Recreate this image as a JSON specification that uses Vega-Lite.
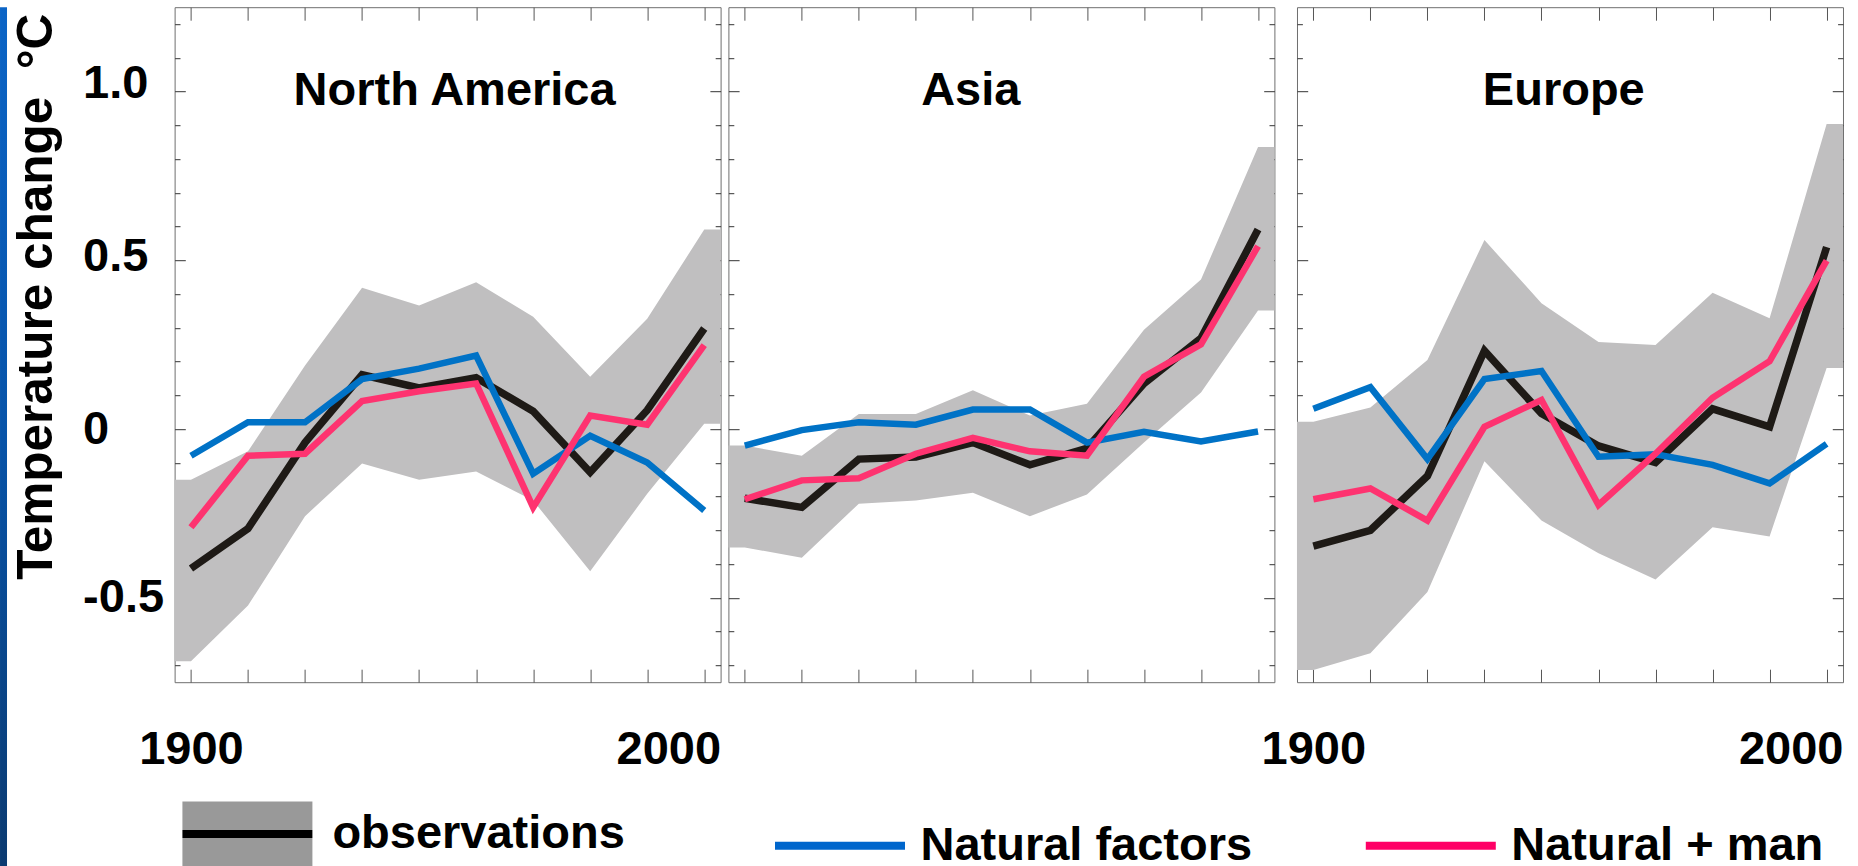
{
  "$schema": "https://vega.github.io/schema/vega-lite/v6.json",
  "background": "white",
  "padding": {"left": 0, "top": 6.2, "right": 0, "bottom": 0},
  "config": {
    "view": {"stroke": "#6e6e6e", "strokeWidth": 1},
    "font": "Liberation Sans"
  },
  "datasets": {
    "band": [
      {"region": "North America", "year": 1890, "lo": -0.688, "hi": -0.150},
      {"region": "North America", "year": 1900, "lo": -0.688, "hi": -0.150},
      {"region": "North America", "year": 1910, "lo": -0.523, "hi": -0.066},
      {"region": "North America", "year": 1920, "lo": -0.258, "hi": 0.188},
      {"region": "North America", "year": 1930, "lo": -0.102, "hi": 0.419},
      {"region": "North America", "year": 1940, "lo": -0.150, "hi": 0.366},
      {"region": "North America", "year": 1950, "lo": -0.126, "hi": 0.435},
      {"region": "North America", "year": 1960, "lo": -0.212, "hi": 0.333},
      {"region": "North America", "year": 1970, "lo": -0.421, "hi": 0.155},
      {"region": "North America", "year": 1980, "lo": -0.192, "hi": 0.327},
      {"region": "North America", "year": 1990, "lo": 0.016, "hi": 0.591},
      {"region": "North America", "year": 2000, "lo": 0.016, "hi": 0.591},
      {"region": "Asia", "year": 1890, "lo": -0.351, "hi": -0.049},
      {"region": "Asia", "year": 1900, "lo": -0.351, "hi": -0.049},
      {"region": "Asia", "year": 1910, "lo": -0.381, "hi": -0.079},
      {"region": "Asia", "year": 1920, "lo": -0.221, "hi": 0.045},
      {"region": "Asia", "year": 1930, "lo": -0.212, "hi": 0.045},
      {"region": "Asia", "year": 1940, "lo": -0.189, "hi": 0.115},
      {"region": "Asia", "year": 1950, "lo": -0.258, "hi": 0.040},
      {"region": "Asia", "year": 1960, "lo": -0.194, "hi": 0.075},
      {"region": "Asia", "year": 1970, "lo": -0.040, "hi": 0.294},
      {"region": "Asia", "year": 1980, "lo": 0.108, "hi": 0.443},
      {"region": "Asia", "year": 1990, "lo": 0.351, "hi": 0.836},
      {"region": "Asia", "year": 2000, "lo": 0.351, "hi": 0.836},
      {"region": "Europe", "year": 1890, "lo": -0.714, "hi": 0.022},
      {"region": "Europe", "year": 1900, "lo": -0.714, "hi": 0.022},
      {"region": "Europe", "year": 1910, "lo": -0.664, "hi": 0.064},
      {"region": "Europe", "year": 1920, "lo": -0.483, "hi": 0.205},
      {"region": "Europe", "year": 1930, "lo": -0.095, "hi": 0.560},
      {"region": "Europe", "year": 1940, "lo": -0.271, "hi": 0.373},
      {"region": "Europe", "year": 1950, "lo": -0.368, "hi": 0.258},
      {"region": "Europe", "year": 1960, "lo": -0.446, "hi": 0.249},
      {"region": "Europe", "year": 1970, "lo": -0.291, "hi": 0.404},
      {"region": "Europe", "year": 1980, "lo": -0.318, "hi": 0.328},
      {"region": "Europe", "year": 1990, "lo": 0.181, "hi": 0.904},
      {"region": "Europe", "year": 2000, "lo": 0.181, "hi": 0.904}
    ],
    "lines": [
      {"region": "North America", "series": "observations", "year": 1900, "value": -0.413},
      {"region": "North America", "series": "observations", "year": 1910, "value": -0.295},
      {"region": "North America", "series": "observations", "year": 1920, "value": -0.040},
      {"region": "North America", "series": "observations", "year": 1930, "value": 0.161},
      {"region": "North America", "series": "observations", "year": 1940, "value": 0.122},
      {"region": "North America", "series": "observations", "year": 1950, "value": 0.152},
      {"region": "North America", "series": "observations", "year": 1960, "value": 0.053},
      {"region": "North America", "series": "observations", "year": 1970, "value": -0.128},
      {"region": "North America", "series": "observations", "year": 1980, "value": 0.056},
      {"region": "North America", "series": "observations", "year": 1990, "value": 0.298},
      {"region": "North America", "series": "Natural factors", "year": 1900, "value": -0.079},
      {"region": "North America", "series": "Natural factors", "year": 1910, "value": 0.020},
      {"region": "North America", "series": "Natural factors", "year": 1920, "value": 0.020},
      {"region": "North America", "series": "Natural factors", "year": 1930, "value": 0.148},
      {"region": "North America", "series": "Natural factors", "year": 1940, "value": 0.179},
      {"region": "North America", "series": "Natural factors", "year": 1950, "value": 0.218},
      {"region": "North America", "series": "Natural factors", "year": 1960, "value": -0.132},
      {"region": "North America", "series": "Natural factors", "year": 1970, "value": -0.020},
      {"region": "North America", "series": "Natural factors", "year": 1980, "value": -0.099},
      {"region": "North America", "series": "Natural factors", "year": 1990, "value": -0.241},
      {"region": "North America", "series": "Natural + man", "year": 1900, "value": -0.291},
      {"region": "North America", "series": "Natural + man", "year": 1910, "value": -0.079},
      {"region": "North America", "series": "Natural + man", "year": 1920, "value": -0.073},
      {"region": "North America", "series": "Natural + man", "year": 1930, "value": 0.083},
      {"region": "North America", "series": "Natural + man", "year": 1940, "value": 0.112},
      {"region": "North America", "series": "Natural + man", "year": 1950, "value": 0.135},
      {"region": "North America", "series": "Natural + man", "year": 1960, "value": -0.232},
      {"region": "North America", "series": "Natural + man", "year": 1970, "value": 0.040},
      {"region": "North America", "series": "Natural + man", "year": 1980, "value": 0.013},
      {"region": "North America", "series": "Natural + man", "year": 1990, "value": 0.249},
      {"region": "Asia", "series": "observations", "year": 1900, "value": -0.205},
      {"region": "Asia", "series": "observations", "year": 1910, "value": -0.232},
      {"region": "Asia", "series": "observations", "year": 1920, "value": -0.089},
      {"region": "Asia", "series": "observations", "year": 1930, "value": -0.083},
      {"region": "Asia", "series": "observations", "year": 1940, "value": -0.040},
      {"region": "Asia", "series": "observations", "year": 1950, "value": -0.106},
      {"region": "Asia", "series": "observations", "year": 1960, "value": -0.057},
      {"region": "Asia", "series": "observations", "year": 1970, "value": 0.135},
      {"region": "Asia", "series": "observations", "year": 1980, "value": 0.269},
      {"region": "Asia", "series": "observations", "year": 1990, "value": 0.591},
      {"region": "Asia", "series": "Natural factors", "year": 1900, "value": -0.049},
      {"region": "Asia", "series": "Natural factors", "year": 1910, "value": -0.003},
      {"region": "Asia", "series": "Natural factors", "year": 1920, "value": 0.020},
      {"region": "Asia", "series": "Natural factors", "year": 1930, "value": 0.013},
      {"region": "Asia", "series": "Natural factors", "year": 1940, "value": 0.058},
      {"region": "Asia", "series": "Natural factors", "year": 1950, "value": 0.058},
      {"region": "Asia", "series": "Natural factors", "year": 1960, "value": -0.040},
      {"region": "Asia", "series": "Natural factors", "year": 1970, "value": -0.008},
      {"region": "Asia", "series": "Natural factors", "year": 1980, "value": -0.037},
      {"region": "Asia", "series": "Natural factors", "year": 1990, "value": -0.007},
      {"region": "Asia", "series": "Natural + man", "year": 1900, "value": -0.208},
      {"region": "Asia", "series": "Natural + man", "year": 1910, "value": -0.152},
      {"region": "Asia", "series": "Natural + man", "year": 1920, "value": -0.146},
      {"region": "Asia", "series": "Natural + man", "year": 1930, "value": -0.073},
      {"region": "Asia", "series": "Natural + man", "year": 1940, "value": -0.026},
      {"region": "Asia", "series": "Natural + man", "year": 1950, "value": -0.066},
      {"region": "Asia", "series": "Natural + man", "year": 1960, "value": -0.079},
      {"region": "Asia", "series": "Natural + man", "year": 1970, "value": 0.155},
      {"region": "Asia", "series": "Natural + man", "year": 1980, "value": 0.251},
      {"region": "Asia", "series": "Natural + man", "year": 1990, "value": 0.542},
      {"region": "Europe", "series": "observations", "year": 1900, "value": -0.347},
      {"region": "Europe", "series": "observations", "year": 1910, "value": -0.300},
      {"region": "Europe", "series": "observations", "year": 1920, "value": -0.139},
      {"region": "Europe", "series": "observations", "year": 1930, "value": 0.232},
      {"region": "Europe", "series": "observations", "year": 1940, "value": 0.046},
      {"region": "Europe", "series": "observations", "year": 1950, "value": -0.050},
      {"region": "Europe", "series": "observations", "year": 1960, "value": -0.099},
      {"region": "Europe", "series": "observations", "year": 1970, "value": 0.060},
      {"region": "Europe", "series": "observations", "year": 1980, "value": 0.007},
      {"region": "Europe", "series": "observations", "year": 1990, "value": 0.539},
      {"region": "Europe", "series": "Natural factors", "year": 1900, "value": 0.060},
      {"region": "Europe", "series": "Natural factors", "year": 1910, "value": 0.124},
      {"region": "Europe", "series": "Natural factors", "year": 1920, "value": -0.089},
      {"region": "Europe", "series": "Natural factors", "year": 1930, "value": 0.148},
      {"region": "Europe", "series": "Natural factors", "year": 1940, "value": 0.172},
      {"region": "Europe", "series": "Natural factors", "year": 1950, "value": -0.082},
      {"region": "Europe", "series": "Natural factors", "year": 1960, "value": -0.075},
      {"region": "Europe", "series": "Natural factors", "year": 1970, "value": -0.106},
      {"region": "Europe", "series": "Natural factors", "year": 1980, "value": -0.161},
      {"region": "Europe", "series": "Natural factors", "year": 1990, "value": -0.044},
      {"region": "Europe", "series": "Natural + man", "year": 1900, "value": -0.208},
      {"region": "Europe", "series": "Natural + man", "year": 1910, "value": -0.176},
      {"region": "Europe", "series": "Natural + man", "year": 1920, "value": -0.271},
      {"region": "Europe", "series": "Natural + man", "year": 1930, "value": 0.007},
      {"region": "Europe", "series": "Natural + man", "year": 1940, "value": 0.086},
      {"region": "Europe", "series": "Natural + man", "year": 1950, "value": -0.225},
      {"region": "Europe", "series": "Natural + man", "year": 1960, "value": -0.073},
      {"region": "Europe", "series": "Natural + man", "year": 1970, "value": 0.093},
      {"region": "Europe", "series": "Natural + man", "year": 1980, "value": 0.201},
      {"region": "Europe", "series": "Natural + man", "year": 1990, "value": 0.499}
    ]
  },
  "hconcat": [
    {
      "width": 7,
      "height": 860,
      "view": {"stroke": null},
      "data": {"values": [{"strip": 1}]},
      "mark": {
        "type": "rect",
        "fill": {"gradient": "linear", "x1": 0, "y1": 0, "x2": 0, "y2": 1, "stops": [{"offset": 0, "color": "#0b64c6"}, {"offset": 0.5, "color": "#0753a8"}, {"offset": 1, "color": "#0b3a70"}]}
      },
      "encoding": {}
    },
    {
      "width": 152,
      "height": 10,
      "view": {"stroke": null},
      "data": {"values": [{"gap": 1}]},
      "mark": {"type": "rect", "fill": "transparent"},
      "encoding": {}
    },
    {
      "width": 546,
      "height": 675,
      "title": {"text": "North America", "anchor": "middle", "frame": "group", "offset": -145.5, "baseline": "alphabetic", "dx": 7, "fontSize": 47, "font": "Liberation Sans", "fontWeight": "bold", "color": "#000000"},
      "layer": [
        {
          "data": {"name": "band"},
          "transform": [{"filter": "datum.region === 'North America'"}],
          "mark": {"type": "area", "clip": true, "opacity": 1, "fill": "#c0bfc0"},
          "encoding": {
            "x": {"field": "year", "type": "quantitative", "scale": {"domain": [1897.13, 1992.87], "nice": false, "zero": false},
              "axis": {"orient": "bottom", "values": [1900, 1910, 1920, 1930, 1940, 1950, 1960, 1970, 1980, 1990], "labels": false, "domain": false, "grid": false, "title": null, "tickSize": -13, "tickColor": "#555555", "tickWidth": 1}},
            "y": {"field": "hi", "type": "quantitative", "scale": {"domain": [-0.75, 1.25], "nice": false, "zero": false},
              "axis": {"orient": "left", "values": [-0.7, -0.6, -0.5, -0.4, -0.3, -0.2, -0.1, 0, 0.1, 0.2, 0.3, 0.4, 0.5, 0.6, 0.7, 0.8, 0.9, 1, 1.1, 1.2], "labels": false, "domain": false, "grid": false, "title": null, "tickColor": "#333333", "tickWidth": 1, "tickSize": {"condition": {"test": "abs(datum.value*2 - round(datum.value*2)) < 0.01", "value": -10.7}, "value": -5.4}}},
            "y2": {"field": "lo"}
          }
        },
        {
          "data": {"name": "lines"},
          "transform": [{"filter": "datum.region === 'North America' && datum.series === 'observations'"}],
          "mark": {"type": "line", "stroke": "#1e1a16", "strokeWidth": 7.5},
          "encoding": {
            "x": {"field": "year", "type": "quantitative", "axis": {"orient": "top", "values": [1900, 1910, 1920, 1930, 1940, 1950, 1960, 1970, 1980, 1990], "labels": false, "domain": false, "grid": false, "title": null, "tickSize": -13, "tickColor": "#555555", "tickWidth": 1}},
            "y": {"field": "value", "type": "quantitative", "axis": {"orient": "right", "values": [-0.7, -0.6, -0.5, -0.4, -0.3, -0.2, -0.1, 0, 0.1, 0.2, 0.3, 0.4, 0.5, 0.6, 0.7, 0.8, 0.9, 1, 1.1, 1.2], "labels": false, "domain": false, "grid": false, "title": null, "tickColor": "#333333", "tickWidth": 1, "tickSize": {"condition": {"test": "abs(datum.value*2 - round(datum.value*2)) < 0.01", "value": -10.7}, "value": -5.4}}}
          }
        },
        {
          "data": {"name": "lines"},
          "transform": [{"filter": "datum.region === 'North America' && datum.series === 'Natural factors'"}],
          "mark": {"type": "line", "stroke": "#0072c6", "strokeWidth": 6.5},
          "encoding": {
            "x": {"field": "year", "type": "quantitative", "axis": {"orient": "bottom", "values": [1900, 1983.7], "labelExpr": "datum.value < 1950 ? '1900' : '2000'", "ticks": false, "tickSize": 0, "domain": false, "grid": false, "title": null, "labelPadding": 44, "labelFontSize": 47, "labelFont": "Liberation Sans", "labelFontWeight": "bold", "labelColor": "#000000", "labelAlign": "center", "labelBaseline": "top", "labelFlush": false, "labelOverlap": false}},
            "y": {"field": "value", "type": "quantitative", "axis": {"orient": "left", "values": [-0.5, 0], "labelExpr": "datum.value == 0 ? '0' : '-0.5'", "ticks": false, "tickSize": 0, "domain": false, "grid": false, "labelAlign": "left", "labelBaseline": "middle", "labelPadding": 92, "labelFontSize": 47, "labelFont": "Liberation Sans", "labelFontWeight": "bold", "labelColor": "#000000", "labelFlush": false, "labelOverlap": false,
              "title": "Temperature change\u00a0 °C", "titleX": -123.1, "titleY": 289.1, "titleAngle": 270, "titleAlign": "center", "titleBaseline": "alphabetic", "titleFontSize": 49.5, "titleFont": "Liberation Sans", "titleFontWeight": "bold", "titleColor": "#000000", "titleLimit": 1000}}
          }
        },
        {
          "data": {"name": "lines"},
          "transform": [{"filter": "datum.region === 'North America' && datum.series === 'Natural + man'"}],
          "mark": {"type": "line", "stroke": "#fe3370", "strokeWidth": 6.5},
          "encoding": {
            "x": {"field": "year", "type": "quantitative", "axis": null},
            "y": {"field": "value", "type": "quantitative", "axis": {"orient": "left", "values": [0.5], "labelExpr": "'0.5'", "labelOffset": -4, "ticks": false, "tickSize": 0, "domain": false, "grid": false, "title": null, "labelAlign": "left", "labelBaseline": "middle", "labelPadding": 92, "labelFontSize": 47, "labelFont": "Liberation Sans", "labelFontWeight": "bold", "labelColor": "#000000", "labelFlush": false, "labelOverlap": false}}
          }
        },
        {
          "data": {"name": "lines"},
          "transform": [{"filter": "datum.region === 'North America' && datum.series === 'observations'"}],
          "mark": {"type": "point", "filled": true, "opacity": 0, "strokeWidth": 0,
            "fill": {"gradient": "linear", "x1": 0, "y1": 0, "x2": 0, "y2": 1, "stops": [{"offset": 0, "color": "#999999"}, {"offset": 0.435, "color": "#999999"}, {"offset": 0.435, "color": "#000000"}, {"offset": 0.555, "color": "#000000"}, {"offset": 0.555, "color": "#999999"}, {"offset": 1, "color": "#999999"}]}},
          "encoding": {
            "x": {"field": "year", "type": "quantitative", "axis": null},
            "y": {"field": "value", "type": "quantitative", "axis": {"orient": "left", "values": [1], "labelExpr": "'1.0'", "labelOffset": -8.4, "ticks": false, "tickSize": 0, "domain": false, "grid": false, "title": null, "labelAlign": "left", "labelBaseline": "middle", "labelPadding": 92, "labelFontSize": 47, "labelFont": "Liberation Sans", "labelFontWeight": "bold", "labelColor": "#000000", "labelFlush": false, "labelOverlap": false}},
            "shape": {"datum": "observations", "type": "nominal", "scale": {"domain": ["observations"], "range": ["M-1,-0.5H1V0.5H-1Z"]},
              "legend": {"orient": "none", "legendX": 182.4, "legendY": 761.8, "title": null, "padding": 0, "symbolSize": 16900, "symbolOpacity": 1, "symbolStrokeWidth": 0, "labelOffset": 20, "labelFontSize": 47, "labelFont": "Liberation Sans", "labelFontWeight": "bold", "labelColor": "#000000", "labelLimit": 1000, "labelBaseline": "middle"}}
          }
        },
        {
          "data": {"name": "lines"},
          "transform": [{"filter": "datum.region === 'North America' && datum.series !== 'observations'"}],
          "mark": {"type": "point", "filled": false, "opacity": 0, "shape": "stroke"},
          "encoding": {
            "x": {"field": "year", "type": "quantitative", "axis": null},
            "y": {"field": "value", "type": "quantitative", "axis": null},
            "color": {"field": "series", "type": "nominal", "scale": {"domain": ["Natural factors", "Natural + man"], "range": ["#0066cc", "#ff0066"]},
              "legend": {"orient": "none", "legendX": 771, "legendY": 769.5, "direction": "horizontal", "title": null, "padding": 0, "symbolType": "stroke", "symbolSize": 16900, "symbolStrokeWidth": 8, "symbolOpacity": 1, "labelOffset": 11.5, "columnPadding": 96.8, "labelFontSize": 47, "labelFont": "Liberation Sans", "labelFontWeight": "bold", "labelColor": "#000000", "labelLimit": 1000, "labelBaseline": "middle"}}
          }
        }
      ],
      "resolve": {"axis": {"x": "independent", "y": "independent"}}
    },
    {
      "width": 546,
      "height": 675,
      "title": {"text": "Asia", "anchor": "middle", "frame": "group", "offset": -145.5, "baseline": "alphabetic", "dx": -30.6, "fontSize": 47, "font": "Liberation Sans", "fontWeight": "bold", "color": "#000000"},
      "layer": [
        {
          "data": {"name": "band"},
          "transform": [{"filter": "datum.region === 'Asia'"}],
          "mark": {"type": "area", "clip": true, "opacity": 1, "fill": "#c0bfc0"},
          "encoding": {
            "x": {"field": "year", "type": "quantitative", "scale": {"domain": [1897.13, 1992.87], "nice": false, "zero": false},
              "axis": {"orient": "bottom", "values": [1900, 1910, 1920, 1930, 1940, 1950, 1960, 1970, 1980, 1990], "labels": false, "domain": false, "grid": false, "title": null, "tickSize": -13, "tickColor": "#555555", "tickWidth": 1}},
            "y": {"field": "hi", "type": "quantitative", "scale": {"domain": [-0.75, 1.25], "nice": false, "zero": false},
              "axis": {"orient": "left", "values": [-0.7, -0.6, -0.5, -0.4, -0.3, -0.2, -0.1, 0, 0.1, 0.2, 0.3, 0.4, 0.5, 0.6, 0.7, 0.8, 0.9, 1, 1.1, 1.2], "labels": false, "domain": false, "grid": false, "title": null, "tickColor": "#333333", "tickWidth": 1, "tickSize": {"condition": {"test": "abs(datum.value*2 - round(datum.value*2)) < 0.01", "value": -10.7}, "value": -5.4}}},
            "y2": {"field": "lo"}
          }
        },
        {
          "data": {"name": "lines"},
          "transform": [{"filter": "datum.region === 'Asia' && datum.series === 'observations'"}],
          "mark": {"type": "line", "stroke": "#1e1a16", "strokeWidth": 7.5},
          "encoding": {
            "x": {"field": "year", "type": "quantitative", "axis": {"orient": "top", "values": [1900, 1910, 1920, 1930, 1940, 1950, 1960, 1970, 1980, 1990], "labels": false, "domain": false, "grid": false, "title": null, "tickSize": -13, "tickColor": "#555555", "tickWidth": 1}},
            "y": {"field": "value", "type": "quantitative", "axis": {"orient": "right", "values": [-0.7, -0.6, -0.5, -0.4, -0.3, -0.2, -0.1, 0, 0.1, 0.2, 0.3, 0.4, 0.5, 0.6, 0.7, 0.8, 0.9, 1, 1.1, 1.2], "labels": false, "domain": false, "grid": false, "title": null, "tickColor": "#333333", "tickWidth": 1, "tickSize": {"condition": {"test": "abs(datum.value*2 - round(datum.value*2)) < 0.01", "value": -10.7}, "value": -5.4}}}
          }
        },
        {
          "data": {"name": "lines"},
          "transform": [{"filter": "datum.region === 'Asia' && datum.series === 'Natural factors'"}],
          "mark": {"type": "line", "stroke": "#0072c6", "strokeWidth": 6.5},
          "encoding": {
            "x": {"field": "year", "type": "quantitative", "axis": null},
            "y": {"field": "value", "type": "quantitative", "axis": null}
          }
        },
        {
          "data": {"name": "lines"},
          "transform": [{"filter": "datum.region === 'Asia' && datum.series === 'Natural + man'"}],
          "mark": {"type": "line", "stroke": "#fe3370", "strokeWidth": 6.5},
          "encoding": {
            "x": {"field": "year", "type": "quantitative", "axis": null},
            "y": {"field": "value", "type": "quantitative", "axis": null}
          }
        }
      ],
      "resolve": {"axis": {"x": "independent", "y": "independent"}}
    },
    {
      "width": 6.2,
      "height": 10,
      "view": {"stroke": null},
      "data": {"values": [{"gap": 1}]},
      "mark": {"type": "rect", "fill": "transparent"},
      "encoding": {}
    },
    {
      "width": 546,
      "height": 675,
      "title": {"text": "Europe", "anchor": "middle", "frame": "group", "offset": -145.5, "baseline": "alphabetic", "dx": -6.2, "fontSize": 47, "font": "Liberation Sans", "fontWeight": "bold", "color": "#000000"},
      "layer": [
        {
          "data": {"name": "band"},
          "transform": [{"filter": "datum.region === 'Europe'"}],
          "mark": {"type": "area", "clip": true, "opacity": 1, "fill": "#c0bfc0"},
          "encoding": {
            "x": {"field": "year", "type": "quantitative", "scale": {"domain": [1897.13, 1992.87], "nice": false, "zero": false},
              "axis": {"orient": "bottom", "values": [1900, 1910, 1920, 1930, 1940, 1950, 1960, 1970, 1980, 1990], "labels": false, "domain": false, "grid": false, "title": null, "tickSize": -13, "tickColor": "#555555", "tickWidth": 1}},
            "y": {"field": "hi", "type": "quantitative", "scale": {"domain": [-0.75, 1.25], "nice": false, "zero": false},
              "axis": {"orient": "left", "values": [-0.7, -0.6, -0.5, -0.4, -0.3, -0.2, -0.1, 0, 0.1, 0.2, 0.3, 0.4, 0.5, 0.6, 0.7, 0.8, 0.9, 1, 1.1, 1.2], "labels": false, "domain": false, "grid": false, "title": null, "tickColor": "#333333", "tickWidth": 1, "tickSize": {"condition": {"test": "abs(datum.value*2 - round(datum.value*2)) < 0.01", "value": -10.7}, "value": -5.4}}},
            "y2": {"field": "lo"}
          }
        },
        {
          "data": {"name": "lines"},
          "transform": [{"filter": "datum.region === 'Europe' && datum.series === 'observations'"}],
          "mark": {"type": "line", "stroke": "#1e1a16", "strokeWidth": 7.5},
          "encoding": {
            "x": {"field": "year", "type": "quantitative", "axis": {"orient": "top", "values": [1900, 1910, 1920, 1930, 1940, 1950, 1960, 1970, 1980, 1990], "labels": false, "domain": false, "grid": false, "title": null, "tickSize": -13, "tickColor": "#555555", "tickWidth": 1}},
            "y": {"field": "value", "type": "quantitative", "axis": {"orient": "right", "values": [-0.7, -0.6, -0.5, -0.4, -0.3, -0.2, -0.1, 0, 0.1, 0.2, 0.3, 0.4, 0.5, 0.6, 0.7, 0.8, 0.9, 1, 1.1, 1.2], "labels": false, "domain": false, "grid": false, "title": null, "tickColor": "#333333", "tickWidth": 1, "tickSize": {"condition": {"test": "abs(datum.value*2 - round(datum.value*2)) < 0.01", "value": -10.7}, "value": -5.4}}}
          }
        },
        {
          "data": {"name": "lines"},
          "transform": [{"filter": "datum.region === 'Europe' && datum.series === 'Natural factors'"}],
          "mark": {"type": "line", "stroke": "#0072c6", "strokeWidth": 6.5},
          "encoding": {
            "x": {"field": "year", "type": "quantitative", "axis": {"orient": "bottom", "values": [1900, 1983.7], "labelExpr": "datum.value < 1950 ? '1900' : '2000'", "ticks": false, "tickSize": 0, "domain": false, "grid": false, "title": null, "labelPadding": 44, "labelFontSize": 47, "labelFont": "Liberation Sans", "labelFontWeight": "bold", "labelColor": "#000000", "labelAlign": "center", "labelBaseline": "top", "labelFlush": false, "labelOverlap": false}},
            "y": {"field": "value", "type": "quantitative", "axis": null}
          }
        },
        {
          "data": {"name": "lines"},
          "transform": [{"filter": "datum.region === 'Europe' && datum.series === 'Natural + man'"}],
          "mark": {"type": "line", "stroke": "#fe3370", "strokeWidth": 6.5},
          "encoding": {
            "x": {"field": "year", "type": "quantitative", "axis": null},
            "y": {"field": "value", "type": "quantitative", "axis": null}
          }
        }
      ],
      "resolve": {"axis": {"x": "independent", "y": "independent"}}
    }
  ],
  "spacing": 7.8,
  "bounds": "flush"
}
